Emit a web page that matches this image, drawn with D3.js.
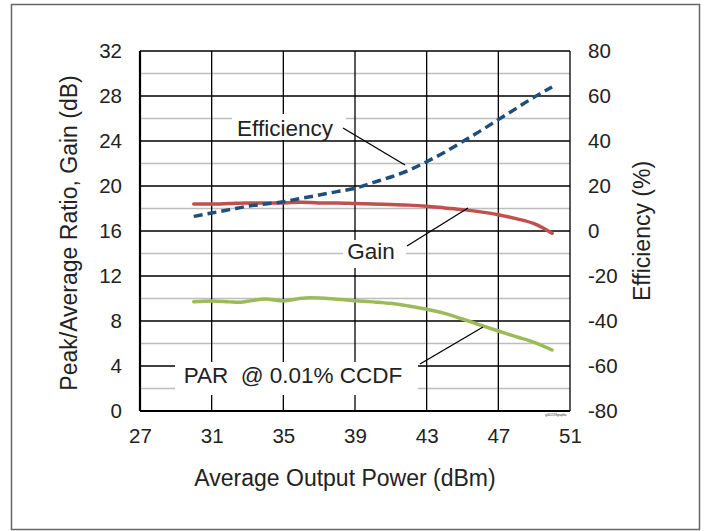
<!DOCTYPE html>
<html><head><meta charset="utf-8">
<script src="https://cdn.jsdelivr.net/npm/d3@7"></script>
<style>body{margin:0;background:#fff}svg text{font-family:Arial,"Liberation Sans",sans-serif;fill:#222}</style>
</head><body>
<script>
const xTicks = [27,31,35,39,43,47,51];
const yLeftTicks = [0,4,8,12,16,20,24,28,32];
const yRightTicks = [-80,-60,-40,-20,0,20,40,60,80];
const effX = [30,31,32,33,34,35,36,37,38,39,40,41,42,43,44,45,46,47,48,49,50];
const effY = [6.5,8,9.5,11,12,13,14.5,16,17.5,19,21.5,24,27,30.8,35,39.7,44.5,49.5,54.5,59.5,64];
const gainX = [30,31,32,33,34,35,36,37,38,39,40,41,42,43,44,45,46,47,48,49,50];
const gainY = [18.4,18.4,18.45,18.5,18.5,18.5,18.55,18.5,18.5,18.45,18.4,18.35,18.3,18.2,18.05,17.9,17.7,17.45,17.1,16.65,15.8];
const parX = [30,31,32,32.5,33,34,35,36,36.5,37,38,39,40,41,42,43,44,45,46,47,48,49,50];
const parY = [9.72,9.78,9.7,9.66,9.75,9.95,9.8,10.02,10.07,10.05,9.93,9.8,9.7,9.57,9.33,9.04,8.68,8.18,7.64,7.11,6.6,6.1,5.42];

const W=704,H=531;
const svg=d3.select("body").append("svg").attr("width",W).attr("height",H);
svg.append("rect").attr("x",11.5).attr("y",4.5).attr("width",688).attr("height",525).attr("fill","#fff").attr("stroke","#666").attr("stroke-width",1.5);

const L=140,R=570,T=51,B=411;
const x=d3.scaleLinear().domain([27,51]).range([L,R]);
const yL=d3.scaleLinear().domain([0,32]).range([B,T]);
const yR=d3.scaleLinear().domain([-80,80]).range([B,T]);

const g=svg.append("g");
g.selectAll(".minor").data(d3.range(2,32,4)).join("line")
 .attr("x1",L).attr("x2",R).attr("y1",d=>yL(d)).attr("y2",d=>yL(d))
 .attr("stroke","#bdbdbd").attr("stroke-width",1.6);
g.selectAll(".major").data(yLeftTicks).join("line")
 .attr("x1",L).attr("x2",R).attr("y1",d=>yL(d)).attr("y2",d=>yL(d))
 .attr("stroke","#000").attr("stroke-width",1.3);
g.selectAll(".vert").data(xTicks).join("line")
 .attr("x1",d=>x(d)).attr("x2",d=>x(d)).attr("y1",T).attr("y2",B)
 .attr("stroke","#000").attr("stroke-width",1.3);
g.append("line").attr("x1",L).attr("x2",R).attr("y1",B).attr("y2",B).attr("stroke","#000").attr("stroke-width",2.2);
g.append("line").attr("x1",L).attr("x2",L).attr("y1",T).attr("y2",B).attr("stroke","#000").attr("stroke-width",2.2);

const fmt=d=>String(d);
const axL=d3.axisLeft(yL).tickValues(yLeftTicks).tickFormat(fmt).tickSize(0).tickPadding(18);
const axR=d3.axisRight(yR).tickValues(yRightTicks).tickFormat(fmt).tickSize(0).tickPadding(18);
const axB=d3.axisBottom(x).tickValues(xTicks).tickFormat(fmt).tickSize(0).tickPadding(17);
function styleAx(sel){sel.select(".domain").remove();sel.selectAll("text").style("font-size","20.5px").style("font-family","Arial,'Liberation Sans',sans-serif").attr("fill","#222");}
svg.append("g").attr("transform",`translate(${L},0)`).call(axL).call(styleAx);
svg.append("g").attr("transform",`translate(${R},0)`).call(axR).call(styleAx);
svg.append("g").attr("transform",`translate(0,${B})`).call(axB).call(styleAx);

const line=(xs,ys,ys_)=>d3.line().curve(d3.curveMonotoneX).x((d,i)=>x(xs[i])).y((d,i)=>ys_(ys[i]));
svg.append("path").attr("d",line(parX,parY,yL)(parY)).attr("fill","none").attr("stroke","#9BBB59").attr("stroke-width",3.5).attr("stroke-linecap","round");
svg.append("path").attr("d",line(gainX,gainY,yL)(gainY)).attr("fill","none").attr("stroke","#C0504D").attr("stroke-width",3.5).attr("stroke-linecap","round");
svg.append("path").attr("d",line(effX,effY,yR)(effY)).attr("fill","none").attr("stroke","#1F4E79").attr("stroke-width",3.5).attr("stroke-dasharray","9,5");

function label(txt,cx,cy,bx0,bx1,by0,by1){
  svg.append("rect").attr("x",bx0).attr("y",by0).attr("width",bx1-bx0).attr("height",by1-by0).attr("fill","#fff");
  svg.append("text").attr("x",cx).attr("y",cy).attr("text-anchor","middle").style("font-size","22.5px").style("white-space","pre").text(txt);
}
label("Efficiency",285,136,232,346,114,140);
label("Gain",371,259,343,406,240,268);
label("PAR  @ 0.01% CCDF",293,383,175,418,362,395);
const ann=[[343,128,405,165],[407,246,468,208],[420,364,483,327]];
svg.selectAll(".ann").data(ann).join("line").attr("x1",d=>d[0]).attr("y1",d=>d[1]).attr("x2",d=>d[2]).attr("y2",d=>d[3]).attr("stroke","#000").attr("stroke-width",1.3);

svg.append("text").attr("transform","translate(77,233) rotate(-90)").attr("text-anchor","middle").style("font-size","23px").text("Peak/Average Ratio, Gain (dB)");
svg.append("text").attr("transform","translate(650,231) rotate(-90)").attr("text-anchor","middle").style("font-size","23px").text("Efficiency (%)");
svg.append("text").attr("x",345).attr("y",486).attr("text-anchor","middle").style("font-size","23px").text("Average Output Power (dBm)");
svg.append("text").attr("x",556).attr("y",416).attr("text-anchor","middle").style("font-size","3px").attr("fill","#999").text("g001578graphic");
</script>
</body></html>
